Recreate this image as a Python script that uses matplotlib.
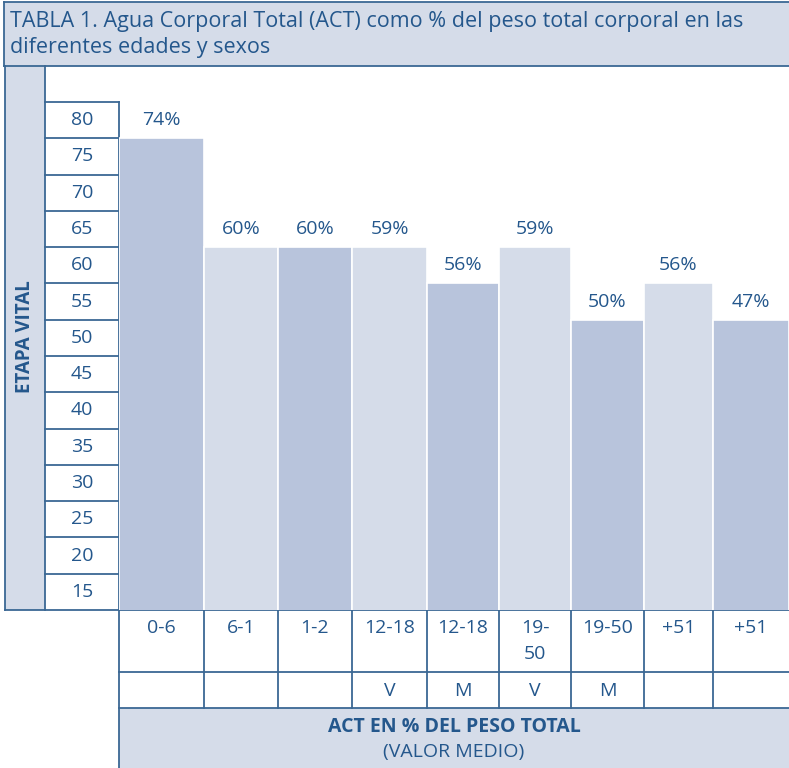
import matplotlib
matplotlib.use("Agg")
import matplotlib.pyplot as plt
from matplotlib.patches import Rectangle

# data
edades = ["0-6", "6-1", "1-2", "12-18", "12-18", "19-\n50", "19-50", "+51", "+51"]
sexo = ["", "", "", "V", "M", "V", "M", "", ""]
act_pct = [74, 60, 60, 59, 56, 59, 50, 56, 47]
# bar tops as drawn on the row scale of the original table
bar_alto = [75, 60, 60, 60, 55, 60, 50, 55, 50]
escala = [80, 75, 70, 65, 60, 55, 50, 45, 40, 35, 30, 25, 20, 15]

W, H = 789, 768
LINE = "#3b6894"
TXT = "#24578c"
LIGHT = "#d5dce9"
DARK = "#b8c4dc"
FONT = "Open Sans"

# column edges of the bar area (pixels)
edges = [119, 204, 278, 352, 427, 499, 571, 644, 713, 789]
widths = [b - a for a, b in zip(edges[:-1], edges[1:])]
colors = [DARK if i % 2 == 0 else LIGHT for i in range(len(act_pct))]


def box(x0, y0, x1, y1):
    return [x0 / W, 1 - y1 / H, (x1 - x0) / W, (y1 - y0) / H]


fig = plt.figure(figsize=(W / 100, H / 100), dpi=100)

# overlay in pixel coordinates for the table frame
ov = fig.add_axes([0, 0, 1, 1])
ov.set_xlim(0, W)
ov.set_ylim(H, 0)
ov.axis("off")

ov.add_patch(Rectangle((4, 2), W - 4, 64, facecolor=LIGHT, edgecolor="none"))
ov.add_patch(Rectangle((5, 66), 40, 544, facecolor=LIGHT, edgecolor="none"))
ov.add_patch(Rectangle((119, 708), W - 119, 60, facecolor=LIGHT, edgecolor="none"))

lw = 1.3
ov.plot([4, W], [2, 2], color=LINE, lw=lw)
ov.plot([4, W], [66, 66], color=LINE, lw=lw)
ov.plot([4, 4], [2, 66], color=LINE, lw=lw)
ov.plot([5, 5], [66, 610], color=LINE, lw=lw)
ov.plot([45, 45], [66, 610], color=LINE, lw=lw)
ov.plot([5, W], [610, 610], color=LINE, lw=lw)
ov.plot([119, W], [672, 672], color=LINE, lw=lw)
ov.plot([119, W], [708, 708], color=LINE, lw=lw)
ov.plot([119, 119], [610, H], color=LINE, lw=lw)
for x in edges[1:-1]:
    ov.plot([x, x], [610, 708], color=LINE, lw=lw)

ov.text(10, 21, "TABLA 1. Agua Corporal Total (ACT) como % del peso total corporal en las",
        fontsize=15.5, family=FONT, color=TXT, va="center", ha="left")
ov.text(10, 48, "diferentes edades y sexos",
        fontsize=15.5, family=FONT, color=TXT, va="center", ha="left")
ov.text(25, 337, "ETAPA VITAL", rotation=90, fontsize=13.5, fontweight="bold",
        family=FONT, color=TXT, ha="center", va="center")

centers = [a + w / 2 for a, w in zip(edges[:-1], widths)]
for cx, lab, sx in zip(centers, edades, sexo):
    ov.text(cx, 619, lab, fontsize=14, family=FONT, color=TXT, ha="center",
            va="top", linespacing=1.55)
    if sx:
        ov.text(cx, 691, sx, fontsize=14, family=FONT, color=TXT,
                ha="center", va="center")
ov.text(454, 727, "ACT EN % DEL PESO TOTAL", fontsize=14, fontweight="bold",
        family=FONT, color=TXT, ha="center", va="center")
ov.text(454, 752, "(VALOR MEDIO)", fontsize=14, family=FONT, color=TXT,
        ha="center", va="center")

# scale column (same y scale as the bars)
ymin, ymax = 10, 80 + 5 * 36 / 36.3
sc = fig.add_axes(box(45, 66, 119, 610))
sc.set_xlim(0, 1)
sc.set_ylim(ymin, ymax)
sc.axis("off")
for v in escala:
    sc.plot([0, 1], [v, v], color=LINE, lw=lw, clip_on=False)
    sc.text(0.5, v - 2.5, str(v), fontsize=14, family=FONT, color=TXT,
            ha="center", va="center")
sc.plot([1, 1], [ymin, escala[0]], color=LINE, lw=lw, clip_on=False)

# bars
ax = fig.add_axes(box(119, 66, 789, 610))
ax.bar(edges[:-1], bar_alto, width=widths, align="edge", color=colors,
       edgecolor="white", linewidth=1.2, bottom=0)
ax.set_xlim(edges[0], edges[-1])
ax.set_ylim(ymin, ymax)
ax.axis("off")
for cx, h, p in zip(centers, bar_alto, act_pct):
    ax.text(cx, h + 2.5, f"{p}%", fontsize=14, family=FONT, color=TXT,
            ha="center", va="center")

fig.savefig("out.png", dpi=100)
